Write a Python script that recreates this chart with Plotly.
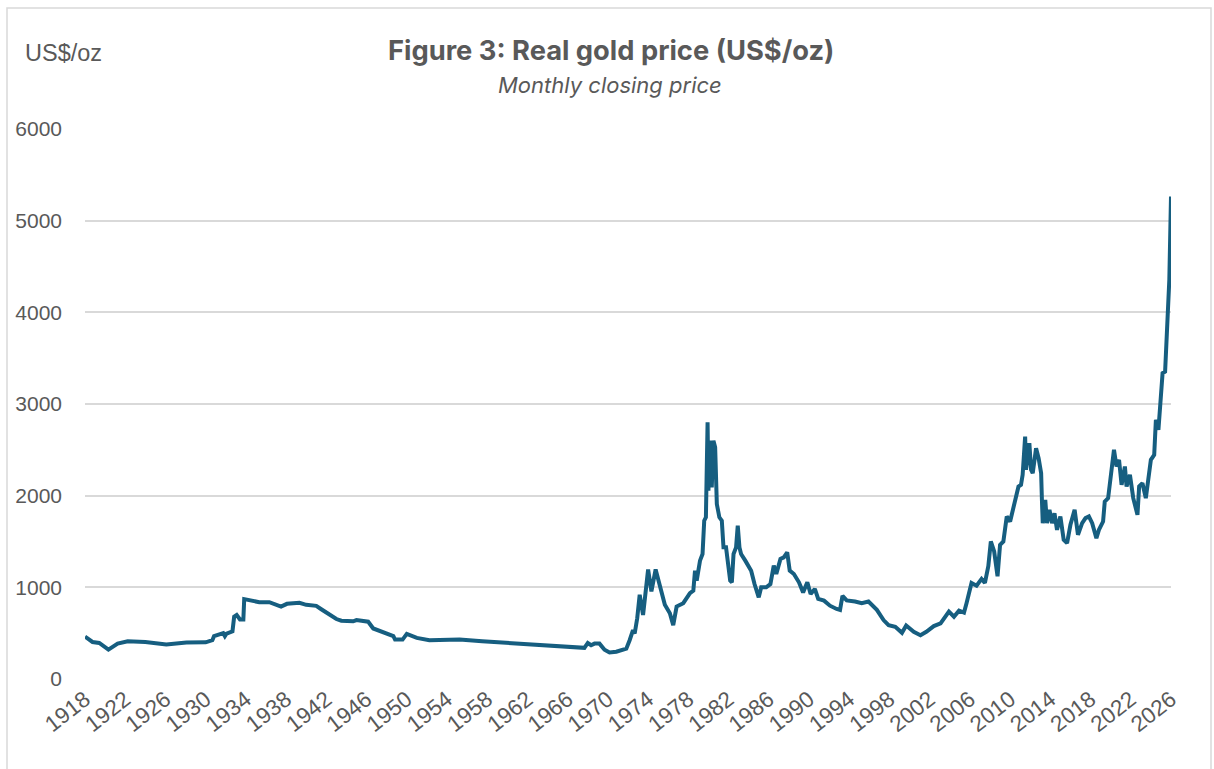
import plotly.graph_objects as go

# ---- data (month, real US$/oz) ----
dates = [
    "1918-01", "1918-10", "1919-06", "1920-05", "1921-04", "1922-04", "1924-01", "1926-02",
    "1928-02", "1930-01", "1930-09", "1930-11", "1931-10", "1931-12", "1932-02", "1932-09",
    "1932-11", "1933-02", "1933-06", "1933-10", "1933-11", "1934-09", "1935-05", "1936-05",
    "1937-07", "1938-02", "1939-05", "1940-01", "1941-01", "1941-07", "1942-03", "1943-01",
    "1943-07", "1944-09", "1945-01", "1946-03", "1946-09", "1947-09", "1948-09", "1948-11",
    "1949-08", "1950-01", "1951-01", "1952-04", "1955-04", "1957-07", "1959-04", "1962-07",
    "1965-11", "1967-09", "1968-01", "1968-05", "1968-09", "1969-03", "1969-09", "1970-03",
    "1970-11", "1971-11", "1972-03", "1972-07", "1972-09", "1972-12", "1973-03", "1973-07",
    "1974-01", "1974-05", "1974-10", "1975-03", "1975-09", "1976-03", "1976-07", "1976-11",
    "1977-07", "1978-03", "1978-07", "1978-09", "1978-11", "1979-03", "1979-06", "1979-08",
    "1979-10", "1979-12", "1980-01", "1980-03", "1980-05", "1980-07", "1980-09", "1980-11",
    "1981-02", "1981-05", "1981-07", "1981-10", "1982-01", "1982-03", "1982-05", "1982-07",
    "1982-10", "1982-12", "1983-02", "1983-04", "1983-09", "1984-01", "1984-04", "1984-08",
    "1985-01", "1985-04", "1985-10", "1986-03", "1986-07", "1986-10", "1987-03", "1987-07",
    "1987-11", "1988-02", "1988-07", "1989-01", "1989-06", "1989-11", "1990-03", "1990-08",
    "1990-12", "1991-07", "1992-02", "1992-10", "1993-02", "1993-05", "1993-10", "1994-08",
    "1995-04", "1995-12", "1996-10", "1997-06", "1997-12", "1998-08", "1999-04", "1999-09",
    "2000-06", "2001-02", "2001-09", "2002-06", "2003-02", "2003-12", "2004-06", "2004-12",
    "2005-06", "2005-09", "2006-03", "2006-09", "2007-03", "2007-07", "2007-11", "2008-02",
    "2008-06", "2008-10", "2009-01", "2009-05", "2009-09", "2010-01", "2010-05", "2010-08",
    "2010-11", "2011-02", "2011-04", "2011-07", "2011-08", "2011-12", "2012-02", "2012-04",
    "2012-08", "2012-11", "2013-02", "2013-03", "2013-04", "2013-07", "2013-09", "2013-12",
    "2014-03", "2014-06", "2014-09", "2015-01", "2015-05", "2015-09", "2016-01", "2016-06",
    "2016-10", "2017-03", "2017-07", "2017-11", "2018-03", "2018-08", "2018-11", "2019-04",
    "2019-06", "2019-10", "2020-01", "2020-05", "2020-08", "2020-11", "2021-02", "2021-06",
    "2021-08", "2021-12", "2022-04", "2022-09", "2022-11", "2023-03", "2023-07", "2023-10",
    "2024-01", "2024-05", "2024-07", "2024-10", "2025-01", "2025-03", "2025-06", "2025-09",
    "2025-11", "2026-01",
]
prices = [
    462, 404, 393, 320, 386, 412, 404, 377,
    398, 400, 423, 467, 500, 467, 496, 520,
    680, 698, 650, 650, 871, 857, 838, 838,
    790, 820, 831, 809, 798, 761, 709, 654,
    636, 629, 643, 625, 551, 504, 467, 430,
    430, 492, 448, 423, 432, 412, 400, 379,
    357, 340, 393, 368, 386, 386, 320, 290,
    298, 331, 423, 533, 496, 662, 919, 698,
    1195, 956, 1195, 1029, 809, 717, 588, 790,
    827, 937, 963, 1182, 1073, 1291, 1364, 1727,
    1764, 2800, 2055, 2600, 2091, 2600, 2527, 1909,
    1764, 1727, 1436, 1436, 1218, 1073, 1055, 1364,
    1436, 1673, 1436, 1364, 1291, 1218, 1182, 1036,
    891, 1000, 1000, 1036, 1236, 1145, 1309, 1327,
    1382, 1182, 1145, 1055, 945, 1055, 927, 982,
    873, 855, 800, 764, 754, 908, 857, 845,
    827, 845, 754, 643, 588, 570, 504, 584,
    515, 478, 515, 577, 607, 735, 680, 746,
    724, 827, 1048, 1018, 1092, 1048, 1231, 1500,
    1391, 1121, 1464, 1500, 1773, 1718, 1864, 1955,
    2100, 2118, 2227, 2645, 2282, 2573, 2282, 2245,
    2518, 2409, 2245, 1955, 1700, 1955, 1700, 1845,
    1700, 1809, 1627, 1773, 1518, 1482, 1682, 1845,
    1573, 1700, 1755, 1773, 1700, 1536, 1627, 1718,
    1936, 1973, 2191, 2500, 2318, 2391, 2118, 2318,
    2100, 2227, 1973, 1791, 2100, 2136, 1973, 2191,
    2391, 2445, 2827, 2718, 3045, 3336, 3354, 3991,
    4355, 5264,
]
y_ticks = [0, 1000, 2000, 3000, 4000, 5000, 6000]

# ---- layout geometry (pixels) ----
W, H = 1214, 769
L, R, T, B = 85, 1171, 129, 679
pw, ph = R - L, B - T

def px(x):
    return (x - L) / pw

def py(y):
    return (B - y) / ph

TEXT = "#595959"
LINE = "#165E80"
GRID = "#D9D9D9"

fig = go.Figure()
fig.add_trace(go.Scatter(
    x=dates, y=prices, mode="lines",
    line=dict(color=LINE, width=4),
    hoverinfo="x+y", showlegend=False,
))

fig.update_layout(
    width=W, height=H,
    margin=dict(l=L, r=W - R, t=T, b=H - B, pad=0),
    paper_bgcolor="white", plot_bgcolor="white",
    font=dict(family="Liberation Sans, Arial, sans-serif", color=TEXT),
    xaxis=dict(
        type="date",
        range=["1918-01-01", "2026-01-01"],
        tick0="1918-01-01", dtick="M48", tickformat="%Y",
        tickangle=-38,
        tickfont=dict(size=22.5, color=TEXT),
        showgrid=False, zeroline=False, showline=False,
        ticks="", ticklabelstandoff=2,
    ),
    yaxis=dict(
        range=[0, 6000],
        tickvals=y_ticks,
        tickfont=dict(size=21, color=TEXT),
        showgrid=True, gridcolor=GRID, gridwidth=1.5,
        zeroline=False, showline=False, ticks="",
        ticklabelstandoff=22,
    ),
    annotations=[
        dict(text="<b>Figure 3: Real gold price (US$/oz)</b>",
             xref="paper", yref="paper", x=px(611), y=py(50),
             xanchor="center", yanchor="middle", showarrow=False,
             font=dict(family="Inter, Open Sans, sans-serif", size=27.3, color=TEXT)),
        dict(text="<i>Monthly closing price</i>",
             xref="paper", yref="paper", x=px(610), y=py(85),
             xanchor="center", yanchor="middle", showarrow=False,
             font=dict(family="Inter, Open Sans, sans-serif", size=22, color=TEXT)),
        dict(text="US$/oz",
             xref="paper", yref="paper", x=px(23), y=py(53),
             xanchor="left", yanchor="middle", showarrow=False,
             font=dict(size=23.5, color=TEXT)),
    ],
    shapes=[
        dict(type="rect", xref="paper", yref="paper",
             x0=px(7), x1=px(1211), y0=py(790), y1=py(8),
             line=dict(color=GRID, width=1.5), fillcolor="rgba(0,0,0,0)", layer="below"),
    ],
)

fig.write_html("out.html")
